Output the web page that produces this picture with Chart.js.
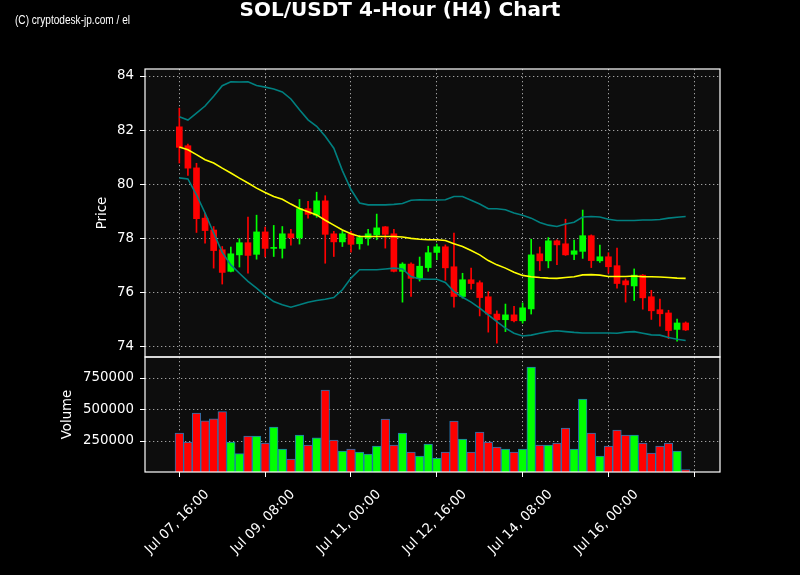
<!DOCTYPE html>
<html>
<head>
<meta charset="utf-8">
<script src="https://cdn.jsdelivr.net/npm/chart.js@4.4.1/dist/chart.umd.min.js"></script>
<style>
  html, body { margin: 0; padding: 0; background: #000; }
  #wrap { width: 800px; height: 575px; }
</style>
</head>
<body>
<div id="wrap"><canvas id="solChart" width="800" height="575"></canvas></div>
<script>
// tick positions (candle index) and their labels
const xTickPos = [0, 10, 20, 30, 40, 50, 60];
const xTickLabels = ['Jul 07, 16:00', 'Jul 09, 08:00', 'Jul 11, 00:00', 'Jul 12, 16:00', 'Jul 14, 08:00', 'Jul 16, 00:00', ''];
const priceTicks = [74, 76, 78, 80, 82, 84];
const volumeTicks = [250000, 500000, 750000];

// OHLC, 4h candles from Jul 07 16:00
const open = [82.12, 81.42, 80.60, 78.74, 78.30, 77.57, 76.77, 77.38, 77.83, 77.40,
  78.23, 77.62, 77.62, 78.16, 78.01, 79.09, 78.85, 79.38, 78.16, 77.86,
  78.16, 77.79, 78.00, 78.12, 78.42, 78.16, 76.77, 77.04, 76.51, 76.91,
  77.47, 77.68, 76.94, 75.84, 76.46, 76.35, 75.83, 75.19, 74.98, 75.16,
  74.94, 75.38, 77.42, 77.16, 77.90, 77.79, 77.40, 77.51, 78.09, 77.16,
  77.31, 76.98, 76.42, 76.23, 76.63, 75.83, 75.35, 75.23, 74.62, 74.86];
const high = [82.81, 81.48, 80.77, 78.93, 78.43, 77.69, 77.67, 77.98, 78.78, 78.85,
  78.41, 78.47, 78.43, 78.33, 79.43, 79.36, 79.70, 79.57, 78.25, 78.27,
  78.25, 78.10, 78.33, 78.89, 78.43, 78.33, 77.09, 77.09, 77.30, 77.70,
  77.78, 77.75, 78.19, 76.70, 76.89, 76.42, 76.02, 75.31, 75.56, 75.48,
  75.60, 77.96, 77.67, 78.02, 77.94, 78.70, 77.93, 79.04, 78.12, 77.74,
  77.46, 77.63, 76.49, 76.86, 76.65, 76.07, 75.74, 75.33, 75.00, 74.90];
const low = [80.78, 80.32, 78.21, 77.81, 76.89, 76.30, 76.75, 76.93, 76.70, 77.22,
  77.30, 77.32, 77.26, 77.74, 77.78, 78.74, 78.77, 77.07, 77.32, 77.69,
  77.48, 77.59, 77.74, 77.94, 77.63, 76.75, 75.63, 75.84, 76.41, 76.77,
  77.20, 76.44, 75.44, 75.78, 76.11, 75.12, 74.52, 74.11, 74.54, 74.90,
  74.85, 75.19, 76.80, 76.90, 77.02, 77.36, 77.20, 77.25, 76.91, 77.10,
  76.70, 76.15, 75.63, 75.69, 75.37, 74.99, 74.74, 74.28, 74.19, 74.58];
const close = [81.36, 80.59, 78.72, 78.28, 77.54, 76.73, 77.42, 77.83, 77.36, 78.23,
  77.62, 77.64, 78.16, 78.01, 79.09, 78.88, 79.38, 78.14, 77.86, 78.16,
  77.77, 78.02, 78.16, 78.38, 78.14, 76.77, 77.04, 76.51, 76.96, 77.46,
  77.68, 76.90, 75.84, 76.46, 76.32, 75.80, 75.19, 74.98, 75.16, 74.94,
  75.42, 77.38, 77.16, 77.90, 77.75, 77.38, 77.53, 78.09, 77.17, 77.31,
  76.94, 76.32, 76.27, 76.63, 75.79, 75.31, 75.20, 74.58, 74.86, 74.60];
const volume = [313500, 242000, 472000, 411000, 427000, 483000, 242000, 149500, 290000, 290000,
  234000, 361000, 186500, 107000, 297600, 218000, 276000, 655000, 258000, 170600,
  186500, 162700, 146800, 210000, 424600, 218000, 313500, 162700, 131000, 226000,
  115000, 162700, 408700, 266000, 162700, 321000, 242000, 202000, 186500, 162700,
  186500, 837300, 218000, 218000, 234000, 353000, 186500, 583000, 313500, 131000,
  210000, 337000, 297600, 297600, 234000, 154800, 210000, 234000, 170600, 22500];

// 20-period SMA and Bollinger bands as plotted
const sma = [81.37, 81.27, 81.09, 80.90, 80.78, 80.59, 80.41, 80.22, 80.04, 79.85,
  79.69, 79.54, 79.44, 79.26, 79.10, 78.98, 78.86, 78.66, 78.48, 78.30,
  78.16, 78.06, 78.06, 78.06, 78.06, 78.06, 78.04, 77.99, 77.96, 77.94,
  77.94, 77.91, 77.79, 77.69, 77.54, 77.38, 77.17, 77.01, 76.89, 76.74,
  76.62, 76.57, 76.54, 76.52, 76.51, 76.54, 76.57, 76.64, 76.65, 76.63,
  76.58, 76.58, 76.58, 76.60, 76.57, 76.57, 76.56, 76.54, 76.52, 76.51];
const bbUpper = [82.49, 82.37, 82.63, 82.89, 83.25, 83.64, 83.79, 83.78, 83.79, 83.65,
  83.59, 83.52, 83.41, 83.15, 82.75, 82.38, 82.14, 81.77, 81.33, 80.50,
  79.80, 79.30, 79.23, 79.23, 79.23, 79.25, 79.28, 79.40, 79.42, 79.41,
  79.41, 79.42, 79.54, 79.54, 79.40, 79.26, 79.09, 79.09, 79.05, 78.93,
  78.85, 78.74, 78.58, 78.48, 78.43, 78.52, 78.59, 78.78, 78.80, 78.78,
  78.70, 78.65, 78.65, 78.65, 78.67, 78.67, 78.69, 78.74, 78.77, 78.80];
const bbLower = [80.23, 80.19, 79.60, 78.93, 78.19, 77.47, 77.01, 76.70, 76.40, 76.15,
  75.88, 75.65, 75.53, 75.44, 75.53, 75.63, 75.69, 75.74, 75.80, 76.09,
  76.52, 76.83, 76.83, 76.83, 76.86, 76.89, 76.86, 76.58, 76.49, 76.48,
  76.48, 76.36, 76.02, 75.81, 75.63, 75.41, 75.16, 74.91, 74.67, 74.48,
  74.38, 74.41, 74.48, 74.54, 74.57, 74.54, 74.51, 74.49, 74.49, 74.49,
  74.49, 74.48, 74.52, 74.54, 74.48, 74.42, 74.41, 74.32, 74.26, 74.21];

const candleColor = close.map((c, i) => c >= open[i] ? '#00ff00' : '#ff0000');
const pts = arr => arr.map((v, i) => ({x: i, y: v}));

Chart.defaults.font.family = '"DejaVu Sans", sans-serif';
Chart.defaults.color = '#fff';

const gridColor = '#a0a0a0';
const tickFont = {family: '"DejaVu Sans"', size: 13.33};

// background, panel frames, title and the hand placed labels
const decor = {
  id: 'decor',
  beforeDraw(chart) {
    const {ctx, chartArea: a} = chart;
    ctx.save();
    ctx.fillStyle = '#000';
    ctx.fillRect(0, 0, chart.width, chart.height);
    ctx.fillStyle = '#0d0d0d';
    ctx.fillRect(a.left, a.top, a.right - a.left, a.bottom - a.top);
    ctx.restore();
  },
  afterDraw(chart) {
    const {ctx, chartArea: a, scales} = chart;
    ctx.save();
    ctx.strokeStyle = '#fff';
    ctx.lineWidth = 1.2;
    ['price', 'vol'].forEach(id => {
      const s = scales[id];
      ctx.strokeRect(a.left, s.top, a.right - a.left, s.bottom - s.top);
    });

    ctx.fillStyle = '#fff';
    ctx.font = '13.33px "DejaVu Sans"';
    ctx.textAlign = 'center';
    ctx.textBaseline = 'middle';
    xTickPos.forEach((p, i) => {
      const lbl = xTickLabels[i];
      if (!lbl) return;
      const w = ctx.measureText(lbl).width;
      const px = scales.x.getPixelForValue(p);
      const cy = a.bottom + 15 + (w + 15) * Math.SQRT1_2 / 2;
      ctx.save();
      ctx.translate(px - 2, cy);
      ctx.rotate(-Math.PI / 4);
      ctx.fillText(lbl, 0, 0);
      ctx.restore();
    });

    // axis titles
    const yTitle = (txt, x, s) => {
      ctx.save();
      ctx.translate(x, (s.top + s.bottom) / 2);
      ctx.rotate(-Math.PI / 2);
      ctx.fillText(txt, 0, 0);
      ctx.restore();
    };
    yTitle('Price', 103, scales.price);
    yTitle('Volume', 68, scales.vol);

    // title
    ctx.font = 'bold 20px "DejaVu Sans"';
    ctx.fillText('SOL/USDT 4-Hour (H4) Chart', chart.width / 2, 11);

    // watermark
    ctx.font = '12px "Liberation Sans"';
    ctx.textAlign = 'left';
    const wm = '(C) cryptodesk-jp.com / el';
    const ww = ctx.measureText(wm).width;
    ctx.translate(15, 21);
    ctx.scale(115 / ww, 1);
    ctx.fillText(wm, 0, 0);
    ctx.restore();
  }
};

new Chart(document.getElementById('solChart'), {
  type: 'bar',
  data: {
    datasets: [
      {type: 'line', label: 'BB upper', data: pts(bbUpper), yAxisID: 'price',
        borderColor: 'rgb(0,128,128)', borderWidth: 1.6, pointRadius: 0, order: 0},
      {type: 'line', label: 'BB lower', data: pts(bbLower), yAxisID: 'price',
        borderColor: 'rgb(0,128,128)', borderWidth: 1.6, pointRadius: 0, order: 0},
      {type: 'line', label: 'SMA', data: pts(sma), yAxisID: 'price',
        borderColor: '#ffff00', borderWidth: 1.6, pointRadius: 0, order: 0},
      {label: 'Wick', data: low.map((l, i) => ({x: i, y: [l, high[i]]})), yAxisID: 'price',
        backgroundColor: candleColor, barThickness: 1, grouped: false, order: 2},
      {label: 'Body', data: open.map((o, i) => ({x: i, y: [o, close[i]]})), yAxisID: 'price',
        backgroundColor: candleColor, barThickness: 6, minBarLength: 1, grouped: false, order: 1},
      {label: 'Volume', data: pts(volume), yAxisID: 'vol',
        backgroundColor: candleColor, borderColor: '#1f77b4', borderWidth: 1,
        barThickness: 8.6, grouped: false, order: 1}
    ]
  },
  options: {
    responsive: false,
    animation: false,
    layout: {padding: {top: 69, right: 80, left: 0, bottom: 0}},
    plugins: {legend: {display: false}, tooltip: {enabled: false}},
    scales: {
      x: {
        type: 'linear', min: -4, max: 63, offset: false,
        afterBuildTicks: s => { s.ticks = xTickPos.map(v => ({value: v})); },
        afterFit: s => { s.height = 103; },
        ticks: {display: false},
        grid: {color: gridColor, offset: false, tickColor: '#fff', tickLength: 5, tickWidth: 1},
        border: {display: false, dash: [1.3, 2.7]}
      },
      price: {
        type: 'linear', position: 'left', stack: 'panes', stackWeight: 288, weight: 2,
        min: 73.6, max: 84.26,
        afterBuildTicks: s => { s.ticks = priceTicks.map(v => ({value: v})); },
        afterFit: s => { s.width = 145; },
        ticks: {color: '#fff', font: tickFont, padding: 6, callback: v => String(v)},
        grid: {color: gridColor, tickColor: '#fff', tickLength: 5, tickWidth: 1},
        border: {display: false, dash: [1.3, 2.7]}
      },
      vol: {
        type: 'linear', position: 'left', stack: 'panes', stackWeight: 115, weight: 1,
        min: 4000, max: 917000,
        afterBuildTicks: s => { s.ticks = volumeTicks.map(v => ({value: v})); },
        afterFit: s => { s.width = 145; },
        ticks: {color: '#fff', font: tickFont, padding: 6, callback: v => String(v)},
        grid: {color: gridColor, tickColor: '#fff', tickLength: 5, tickWidth: 1},
        border: {display: false, dash: [1.3, 2.7]}
      }
    }
  },
  plugins: [decor]
});
</script>
</body>
</html>
